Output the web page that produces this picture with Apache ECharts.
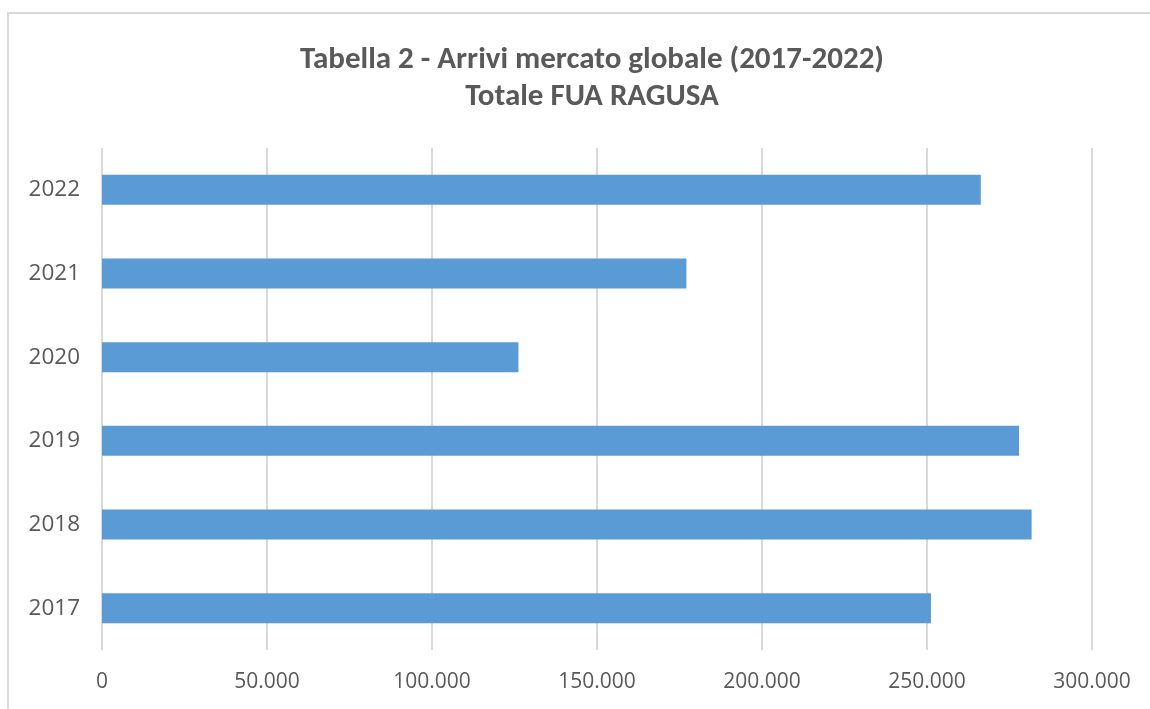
<!DOCTYPE html>
<html>
<head>
<meta charset="utf-8">
<script src="https://cdn.jsdelivr.net/npm/echarts@6/dist/echarts.min.js"></script>
<style>html,body{margin:0;padding:0;background:#fff;}#c{width:1150px;height:709px;}</style>
</head>
<body>
<div id="c"></div>
<script>
const titleLines = ['Tabella 2 - Arrivi mercato globale (2017-2022)', 'Totale FUA RAGUSA'];
const years = ['2017', '2018', '2019', '2020', '2021', '2022'];
const arrivals = [251200, 281700, 277900, 126200, 177100, 266300];
const xTicks = [0, 50000, 100000, 150000, 200000, 250000, 300000];

const fmt = v => String(v).replace(/\B(?=(\d{3})+(?!\d))/g, '.');
const chart = echarts.init(document.getElementById('c'));
chart.setOption({
  animation: false,
  backgroundColor: '#fff',
  graphic: [{
    type: 'rect', shape: {x: 8, y: 13, width: 1300, height: 900},
    style: {fill: 'none', stroke: '#d9d9d9', lineWidth: 2}, silent: true
  }],
  title: {
    text: titleLines.join('\n'),
    left: 587, top: 37, textAlign: 'center',
    textStyle: {fontFamily: "Carlito, 'Liberation Sans Narrow', 'Noto Sans', sans-serif", fontWeight: 'bold',
      fontSize: 31, lineHeight: 37, color: '#595959'}
  },
  grid: {left: 102, right: 58, top: 148, bottom: 59, containLabel: false},
  xAxis: {
    type: 'value', min: xTicks[0], max: xTicks[xTicks.length - 1], interval: xTicks[1] - xTicks[0],
    axisLine: {show: false}, axisTick: {show: false},
    splitLine: {show: true, lineStyle: {color: '#d9d9d9', width: 2}},
    axisLabel: {formatter: fmt, color: '#595959', fontSize: 21, fontFamily: "'Open Sans', sans-serif", margin: 22}
  },
  yAxis: {
    type: 'category', data: years,
    axisLine: {show: false}, axisTick: {show: false},
    axisLabel: {color: '#595959', fontSize: 22.5, fontFamily: "'Open Sans', sans-serif", margin: 22}
  },
  series: [{
    type: 'bar', data: arrivals, barWidth: 30,
    itemStyle: {color: '#5b9bd5'}
  }]
});
</script>
</body>
</html>
